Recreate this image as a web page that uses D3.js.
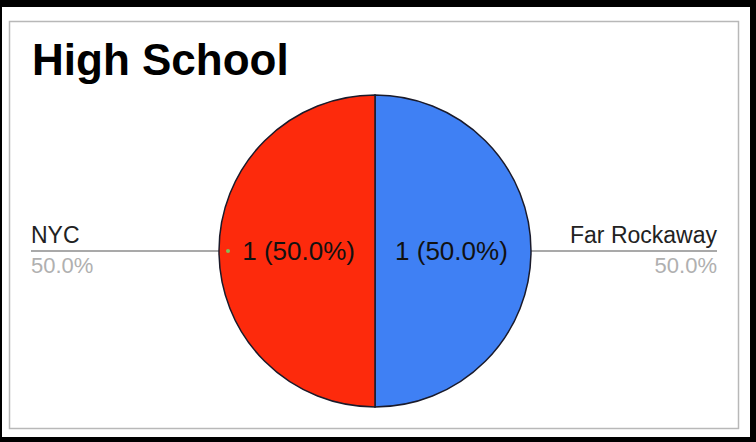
<!DOCTYPE html>
<html>
<head>
<meta charset="utf-8">
<script src="https://cdn.jsdelivr.net/npm/d3@7"></script>
<style>
  html, body { margin: 0; padding: 0; background: #000; }
  svg { display: block; }
</style>
</head>
<body>
<div id="chart"></div>
<script>
// data
const categories = ['Far Rockaway', 'NYC'];
const counts = [1, 1];
const colors = ['#3f80f4', '#fd2a0c'];
const title = 'High School';

const width = 756, height = 442;
const svg = d3.select('#chart').append('svg')
  .attr('width', width)
  .attr('height', height);

// black frame + white card
svg.append('rect').attr('width', width).attr('height', height).attr('fill', '#000');
svg.append('rect')
  .attr('x', 2).attr('y', 7)
  .attr('width', 748).attr('height', 430)
  .attr('fill', '#fff');
svg.append('rect')
  .attr('x', 9.5).attr('y', 21.5)
  .attr('width', 729).attr('height', 407)
  .attr('fill', 'none')
  .attr('stroke', '#b8b8b8')
  .attr('stroke-width', 1.5);

const font = 'Liberation Sans, Arial, Helvetica, sans-serif';

svg.append('text')
  .attr('x', 32).attr('y', 75)
  .attr('font-family', font)
  .attr('font-weight', 'bold')
  .attr('font-size', 44)
  .attr('fill', '#000')
  .text(title);

const cx = 375, cy = 251, r = 156;
const total = d3.sum(counts);
const data = categories.map((c, i) => ({ name: c, value: counts[i], color: colors[i] }));

const pie = d3.pie().sort(null).value(d => d.value);
const arc = d3.arc().innerRadius(0).outerRadius(r);
const labelArc = d3.arc().innerRadius(r * 0.49).outerRadius(r * 0.49);
const arcs = pie(data);

const g = svg.append('g').attr('transform', `translate(${cx},${cy})`);

// leader lines behind the pie
arcs.forEach(a => {
  const mid = (a.startAngle + a.endAngle) / 2;
  const side = Math.sin(mid) >= 0 ? 1 : -1;
  const x0 = side * r;
  const x1 = side > 0 ? 717 - cx : 31 - cx;
  g.append('line')
    .attr('x1', x0).attr('y1', 0)
    .attr('x2', x1).attr('y2', 0)
    .attr('stroke', '#8c8c8c')
    .attr('stroke-width', 1.5);
  g.append('text')
    .attr('x', x1).attr('y', -8)
    .attr('text-anchor', side > 0 ? 'end' : 'start')
    .attr('font-family', font)
    .attr('font-size', 23)
    .attr('fill', '#222')
    .text(a.data.name);
  g.append('text')
    .attr('x', x1).attr('y', 22)
    .attr('text-anchor', side > 0 ? 'end' : 'start')
    .attr('font-family', font)
    .attr('font-size', 22)
    .attr('fill', '#b0b0b0')
    .text(d3.format('.1%')(a.data.value / total));
});

g.selectAll('path.slice')
  .data(arcs)
  .enter().append('path')
  .attr('class', 'slice')
  .attr('d', arc)
  .attr('fill', d => d.data.color)
  .attr('stroke', '#1a1a2a')
  .attr('stroke-width', 1.5);

// little dot where the left leader meets the pie
arcs.forEach(a => {
  const mid = (a.startAngle + a.endAngle) / 2;
  if (Math.sin(mid) < 0) {
    g.append('circle').attr('cx', -r + 9).attr('cy', 0).attr('r', 2).attr('fill', '#7fbf5a');
  }
});

g.selectAll('text.val')
  .data(arcs)
  .enter().append('text')
  .attr('class', 'val')
  .attr('x', d => labelArc.centroid(d)[0])
  .attr('y', d => labelArc.centroid(d)[1])
  .attr('dy', '0.35em')
  .attr('text-anchor', 'middle')
  .attr('font-family', font)
  .attr('font-size', 26)
  .attr('fill', '#111')
  .text(d => `${d.data.value} (${d3.format('.1%')(d.data.value / total)})`);
</script>
</body>
</html>
